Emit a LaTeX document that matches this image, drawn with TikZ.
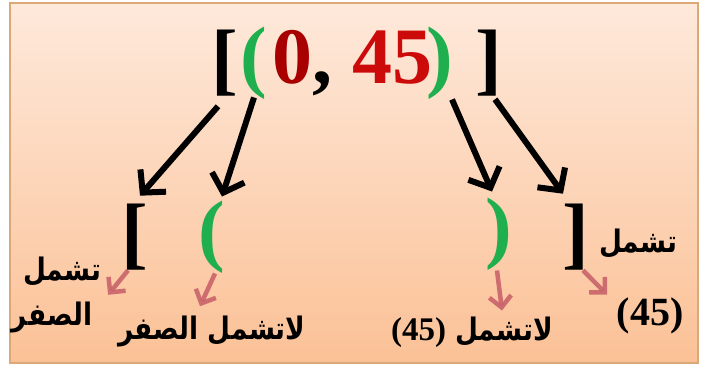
\documentclass[tikz,border=0pt]{standalone}
\usepackage{fontspec}
\usetikzlibrary{arrows.meta}
\setmainfont{Liberation Serif}
\newfontfamily\arabicfont[Script=Arabic,FakeStretch=0.85]{DejaVu Sans}
\TeXXeTstate=1
\definecolor{bgtop}{HTML}{FEE9DB}
\definecolor{bgbot}{HTML}{FBC196}
\definecolor{framec}{HTML}{DBA878}
\definecolor{pgreen}{HTML}{1FAF4F}
\definecolor{numdark}{HTML}{A80000}
\definecolor{numred}{HTML}{CC0A0A}
\definecolor{redarrow}{HTML}{C9636A}
\tikzset{
  big/.style={font=\fontsize{80}{80}\selectfont\bfseries, inner sep=0pt},
  arlab/.style={font=\arabicfont\bfseries\fontsize{31}{36}\selectfont, inner sep=0pt},
  numlab/.style={font=\bfseries\fontsize{40}{40}\selectfont, inner sep=0pt},
  blk/.style={line width=6pt, -{Straight Barb[length=16pt,width=34pt]}},
  redarr/.style={line width=4.5pt, redarrow, opacity=0.9, -{Straight Barb[length=11pt,width=22pt]}}
}
\begin{document}
\begin{tikzpicture}[x=1pt,y=-1pt]
\useasboundingbox (0,0) rectangle (701,367);
\shade[top color=bgtop, bottom color=bgbot] (10,3) rectangle (698,363);
\draw[framec, line width=2pt] (10,3) rectangle (698,363);
% top line
\node[big] (tlb) at (225,63) {[};
\node[big, text=pgreen] (tp1) at (254,63) {(};
\node[big] (mid) at (352,63) {\textcolor{numdark}{0}, \textcolor{numred}{45}};
\node[big, text=pgreen] (tp2) at (440,63) {)};
\node[big] (trb) at (489,63) {]};
% lower brackets
\node[big] (lb1) at (135,237) {[};
\node[big, text=pgreen] (lp1) at (212,237) {(};
\node[big, text=pgreen] (lp2) at (499,234) {)};
\node[big] (lrb) at (576,237) {]};
% labels
\node[arlab] (l1a) at (62,272) {\beginR تشمل\endR};
\node[arlab] (l1b) at (52,318) {\beginR الصفر\endR};
\node[arlab] (l2) at (212,332) {\beginR لاتشمل الصفر\endR};
\node[arlab] (l3) at (472,332) {\beginR لاتشمل \beginL\fontspec{Liberation Serif}\fontsize{33}{36}\selectfont(45)\endL\endR};
\node[arlab] (l4) at (638,244) {\beginR تشمل\endR};
\node[numlab] (l5) at (650,316) {(45)};
% black arrows
\draw[blk] ([xshift=-7pt,yshift=-10pt]tlb.south) -- ([xshift=5pt,yshift=8pt]lb1.north);
\draw[blk] ([yshift=2pt]tp1.south) -- ([xshift=10pt,yshift=4pt]lp1.north);
\draw[blk] ([xshift=12pt]tp2.south) -- ([xshift=-7pt,yshift=6pt]lp2.north);
\draw[blk] ([xshift=6pt,yshift=-3pt]trb.south) -- ([xshift=-13pt,yshift=10pt]lrb.north);
% red arrows
\draw[redarr] ([xshift=-7pt]lb1.south) -- ([xshift=7pt,yshift=-8pt]l1a.south east);
\draw[redarr] ([xshift=3pt]lp1.south) -- ([xshift=-12pt,yshift=10pt]l2.north);
\draw[redarr] ([xshift=-2pt]lp2.south) -- ([xshift=30pt,yshift=6pt]l3.north);
\draw[redarr] ([xshift=7pt]lrb.south) -- ([xshift=-43pt,yshift=3pt]l5.north);
\end{tikzpicture}
\end{document}
